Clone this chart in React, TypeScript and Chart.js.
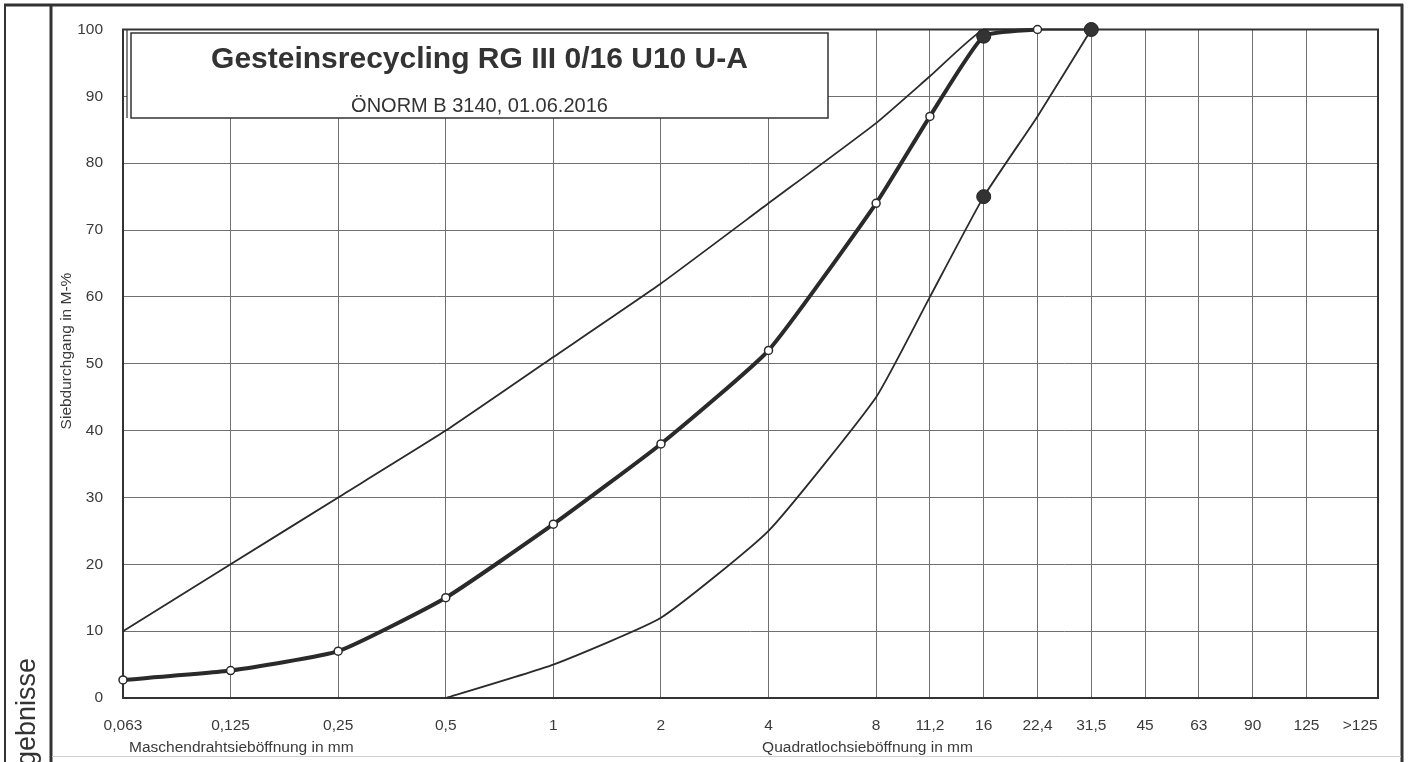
import { useEffect, useRef } from 'react';
import { Chart, registerables } from 'chart.js';

Chart.register(...registerables);

// ---- data ----
const sieveLabels = ['0,063', '0,125', '0,25', '0,5', '1', '2', '4', '8', '11,2', '16', '22,4', '31,5', '45', '63', '90', '125', '>125'];
// axis position of each sieve (half-octave steps, as on the printed form)
const sieveAxisPos = [0, 2, 4, 6, 8, 10, 12, 14, 15, 16, 17, 18, 19, 20, 21, 22, 23];
const upperLimit: (number | null)[] = [10, 20, 30, 40, 51, 62, 74, 86, 93, 100, 100, 100];
const lowerLimit: (number | null)[] = [null, null, null, 0, 5, 12, 25, 45, 60, 75, 87, 100];
const measured: (number | null)[] = [2.7, 4.1, 7, 15, 26, 38, 52, 74, 87, 99, 100];
const markSieves = ['16', '16', '31,5'];
const markValues = [99, 75, 100];
const yTickValues = [0, 10, 20, 30, 40, 50, 60, 70, 80, 90, 100];

const titleText = 'Gesteinsrecycling RG III 0/16 U10 U-A';
const subtitleText = 'ÖNORM B 3140, 01.06.2016';
const yTitle = 'Siebdurchgang in M-%';
const xTitleLeft = 'Maschendrahtsieböffnung in mm';
const xTitleRight = 'Quadratlochsieböffnung in mm';
const sideText = 'Ergebnisse';

const FONT = 'Arial, "Liberation Sans", sans-serif';
const INK = '#2a2a2a';
const TEXT = '#3a3a3a';

const toPoints = (vals: (number | null)[]) =>
  vals
    .map((v, i) => ({ x: sieveAxisPos[i], y: v }))
    .filter((p) => p.y !== null) as { x: number; y: number }[];

const markPoints = markSieves.map((s, i) => ({ x: sieveAxisPos[sieveLabels.indexOf(s)], y: markValues[i] }));

const framePlugin = {
  id: 'framePlugin',
  beforeDraw(chart: any) {
    const ctx = chart.ctx as CanvasRenderingContext2D;
    const W = chart.width;
    const H = chart.height;
    ctx.save();
    ctx.fillStyle = '#ffffff';
    ctx.fillRect(0, 0, W, H);
    ctx.strokeStyle = '#333';
    // top frame
    ctx.lineWidth = 3;
    ctx.beginPath();
    ctx.moveTo(4, 5);
    ctx.lineTo(1403, 5);
    ctx.stroke();
    // left outer
    ctx.lineWidth = 2;
    ctx.beginPath();
    ctx.moveTo(5, 4);
    ctx.lineTo(5, H);
    ctx.stroke();
    // left inner
    ctx.lineWidth = 3;
    ctx.beginPath();
    ctx.moveTo(51, 4);
    ctx.lineTo(51, H);
    ctx.stroke();
    // right
    ctx.beginPath();
    ctx.moveTo(1402, 4);
    ctx.lineTo(1402, H);
    ctx.stroke();
    // faint bottom
    ctx.strokeStyle = '#d0d0d0';
    ctx.lineWidth = 1;
    ctx.beginPath();
    ctx.moveTo(52, 756.5);
    ctx.lineTo(1401, 756.5);
    ctx.stroke();

    // side text (rotated, clipped at the bottom of the page)
    ctx.fillStyle = '#333';
    ctx.font = `27px ${FONT}`;
    ctx.save();
    ctx.translate(35, 658);
    ctx.rotate(-Math.PI / 2);
    ctx.textAlign = 'left';
    ctx.textBaseline = 'alphabetic';
    const w = ctx.measureText(sideText).width;
    ctx.fillText(sideText, -w, 0);
    ctx.restore();

    // y title
    ctx.save();
    ctx.fillStyle = TEXT;
    ctx.font = `15.5px ${FONT}`;
    ctx.translate(67, 351);
    ctx.rotate(-Math.PI / 2);
    ctx.textAlign = 'center';
    ctx.textBaseline = 'middle';
    ctx.fillText(yTitle, 0, 0);
    ctx.restore();
    ctx.restore();
  },
  beforeDatasetsDraw(chart: any) {
    const ctx = chart.ctx as CanvasRenderingContext2D;
    const a = chart.chartArea;
    const xs = chart.scales.x;
    ctx.save();
    // plot border
    ctx.strokeStyle = '#333';
    ctx.lineWidth = 2;
    ctx.strokeRect(a.left, a.top, a.right - a.left, a.bottom - a.top);

    // title box
    const bx0 = 127;
    const by0 = 30;
    const bx1 = 828;
    const by1 = 118;
    ctx.fillStyle = '#ffffff';
    ctx.fillRect(bx0, by0, bx1 - bx0, by1 - by0);
    ctx.strokeStyle = '#333';
    ctx.lineWidth = 1.5;
    ctx.strokeRect(bx0 + 4, by0 + 3, bx1 - bx0 - 4, by1 - by0 - 3);
    ctx.lineWidth = 1.2;
    ctx.beginPath();
    ctx.moveTo(bx0, by0);
    ctx.lineTo(bx0, by1);
    ctx.moveTo(bx0, by0);
    ctx.lineTo(bx1, by0);
    ctx.stroke();

    const cx = (bx0 + bx1) / 2 + 2;
    ctx.fillStyle = '#333';
    ctx.textAlign = 'center';
    ctx.textBaseline = 'alphabetic';
    ctx.font = `bold 30px ${FONT}`;
    ctx.fillText(titleText, cx, 68);
    ctx.font = `20px ${FONT}`;
    ctx.fillText(subtitleText, cx, 112);

    // x titles
    ctx.fillStyle = TEXT;
    ctx.font = `15.5px ${FONT}`;
    ctx.fillText(xTitleLeft, xs.getPixelForValue(2.2), 752);
    ctx.fillText(xTitleRight, xs.getPixelForValue(13.84), 752);
    ctx.restore();
  },
};

export default function App() {
  const ref = useRef<HTMLCanvasElement | null>(null);

  useEffect(() => {
    if (!ref.current) return;
    const chart = new Chart(ref.current, {
      type: 'line',
      data: {
        datasets: [
          {
            label: 'Grenzpunkte',
            data: markPoints,
            showLine: false,
            pointRadius: 7,
            pointBackgroundColor: '#333',
            pointBorderColor: '#222',
            pointBorderWidth: 1,
            clip: false,
          } as any,
          {
            label: 'Sieblinie',
            data: toPoints(measured),
            borderColor: INK,
            borderWidth: 4,
            tension: 0.15,
            pointRadius: 4,
            pointBackgroundColor: '#ffffff',
            pointBorderColor: INK,
            pointBorderWidth: 1.5,
            clip: false,
          } as any,
          {
            label: 'Obere Grenze',
            data: toPoints(upperLimit),
            borderColor: INK,
            borderWidth: 1.8,
            tension: 0.15,
            pointRadius: 0,
            clip: false,
          } as any,
          {
            label: 'Untere Grenze',
            data: toPoints(lowerLimit),
            borderColor: INK,
            borderWidth: 1.8,
            tension: 0.15,
            pointRadius: 0,
            clip: false,
          } as any,
        ],
      },
      options: {
        animation: false,
        responsive: false,
        devicePixelRatio: 1,
        layout: { padding: { top: 29.5, right: 31, left: 0, bottom: 0 } },
        plugins: {
          legend: { display: false },
          tooltip: { enabled: false },
          title: { display: false },
        },
        scales: {
          x: {
            type: 'linear',
            min: 0,
            max: 23.33,
            afterBuildTicks: (s: any) => {
              s.ticks = sieveAxisPos.map((v) => ({ value: v }));
            },
            afterFit: (s: any) => {
              s.height = 64;
            },
            ticks: {
              autoSkip: false,
              maxRotation: 0,
              minRotation: 0,
              padding: 18,
              color: TEXT,
              font: { family: FONT, size: 15.5 },
              callback: (_v: any, i: number) => sieveLabels[i],
            },
            grid: {
              drawTicks: false,
              lineWidth: 1,
              color: (c: any) => (c.tick && c.tick.value === 23 ? 'rgba(0,0,0,0)' : '#707070'),
            },
            border: { display: false },
          },
          y: {
            type: 'linear',
            min: 0,
            max: 100,
            afterBuildTicks: (s: any) => {
              s.ticks = yTickValues.map((v) => ({ value: v }));
            },
            afterFit: (s: any) => {
              s.width = 123;
            },
            ticks: {
              padding: 20,
              color: TEXT,
              font: { family: FONT, size: 15.5 },
            },
            grid: { drawTicks: false, lineWidth: 1, color: '#707070' },
            border: { display: false },
          },
        },
      } as any,
      plugins: [framePlugin],
    });
    return () => chart.destroy();
  }, []);

  return (
    <div style={{ position: 'absolute', left: 0, top: 0, width: 1409, height: 762, background: '#fff' }}>
      <canvas ref={ref} width={1409} height={762} style={{ display: 'block', width: 1409, height: 762 }} />
    </div>
  );
}
